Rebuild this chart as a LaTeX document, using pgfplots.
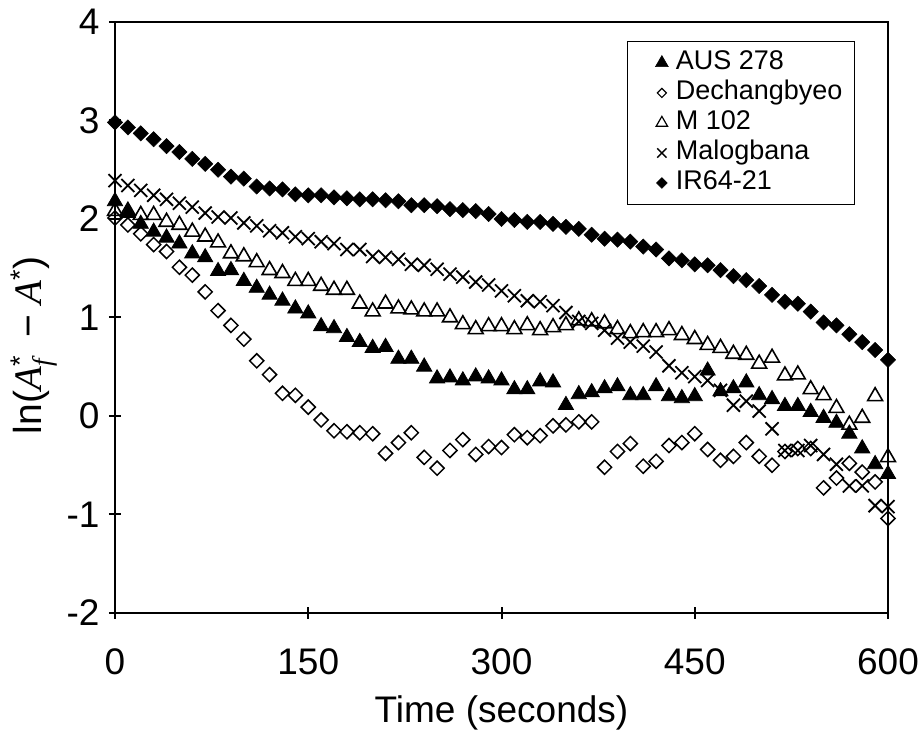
\documentclass[border=0pt]{standalone}
\usepackage{pgfplots}
\pgfplotsset{compat=1.18}
\usepackage{pgfplotstable}
\usepackage{fontspec}
\setmainfont{Liberation Sans}
\newfontfamily\serifit{Liberation Serif}
\newcommand{\sstar}{\raisebox{0.3em}{\fontsize{27}{27}\selectfont *}}
\newcommand{\Af}{{\serifit\itshape A}\rlap{\sstar}\raisebox{-0.28em}{\fontsize{27}{27}\selectfont\serifit\itshape f}}
\newcommand{\As}{{\serifit\itshape A}\sstar}
\pgfplotstableread{
t aus dech m102 malo ir64
0 2.18 2.01 2.08 2.39 2.98
10 2.06 1.94 2.08 2.34 2.93
20 1.95 1.85 2.04 2.29 2.87
30 1.87 1.74 2.04 2.24 2.81
40 1.81 1.67 1.97 2.20 2.74
50 1.75 1.51 1.94 2.16 2.68
60 1.65 1.43 1.87 2.12 2.61
70 1.61 1.26 1.82 2.06 2.56
80 1.47 1.07 1.76 2.02 2.50
90 1.48 0.92 1.65 2.01 2.43
100 1.37 0.78 1.62 1.96 2.41
110 1.30 0.56 1.56 1.93 2.33
120 1.23 0.42 1.48 1.88 2.31
130 1.17 0.23 1.45 1.86 2.30
140 1.09 0.21 1.37 1.82 2.25
150 1.04 0.09 1.37 1.80 2.24
160 0.91 -0.04 1.32 1.77 2.24
170 0.89 -0.15 1.28 1.75 2.22
180 0.80 -0.16 1.28 1.69 2.21
190 0.75 -0.17 1.14 1.69 2.20
200 0.69 -0.18 1.06 1.62 2.20
210 0.70 -0.38 1.14 1.61 2.19
220 0.58 -0.27 1.09 1.59 2.18
230 0.58 -0.17 1.08 1.54 2.14
240 0.50 -0.42 1.06 1.53 2.14
250 0.38 -0.53 1.06 1.49 2.13
260 0.39 -0.35 1.00 1.44 2.10
270 0.36 -0.24 0.93 1.41 2.09
280 0.40 -0.39 0.88 1.36 2.08
290 0.38 -0.31 0.91 1.33 2.05
300 0.36 -0.32 0.91 1.27 2.00
310 0.27 -0.19 0.88 1.22 1.99
320 0.27 -0.22 0.92 1.17 1.97
330 0.35 -0.20 0.87 1.16 1.97
340 0.34 -0.10 0.90 1.12 1.95
350 0.11 -0.09 0.92 1.05 1.92
360 0.22 -0.06 0.97 0.96 1.90
370 0.24 -0.06 0.96 0.94 1.84
380 0.28 -0.52 0.94 0.87 1.80
390 0.30 -0.36 0.88 0.79 1.79
400 0.21 -0.28 0.84 0.75 1.77
410 0.21 -0.51 0.85 0.71 1.72
420 0.30 -0.46 0.85 0.65 1.69
430 0.20 -0.30 0.87 0.51 1.60
440 0.18 -0.27 0.82 0.44 1.58
450 0.20 -0.18 0.78 0.40 1.54
460 0.46 -0.34 0.72 0.36 1.53
470 0.25 -0.45 0.69 0.26 1.48
480 0.28 -0.41 0.63 0.11 1.42
490 0.34 -0.27 0.62 0.15 1.38
500 0.21 -0.41 0.53 0.05 1.32
510 0.17 -0.50 0.59 -0.13 1.23
520 0.10 -0.36 0.41 -0.35 1.16
530 0.10 -0.33 0.42 -0.35 1.14
540 0.04 -0.33 0.27 -0.30 1.06
550 -0.02 -0.73 0.21 -0.39 0.95
560 -0.07 -0.63 0.08 -0.49 0.92
570 -0.18 -0.48 -0.09 -0.71 0.83
580 -0.33 -0.57 -0.02 -0.71 0.75
590 -0.49 -0.67 0.20 -0.91 0.67
600 -0.59 -1.04 -0.42 -0.92 0.57
}\data
\begin{document}
\begin{tikzpicture}
\begin{axis}[
  name=ax,
  scale only axis,
  width=773pt, height=591pt,
  xmin=0, xmax=600, ymin=-2, ymax=4,
  xtick={0,150,300,450,600},
  ytick={-2,-1,0,1,2,3,4},
  xtick pos=bottom, ytick pos=left,
  tick align=center,
  major tick length=12pt,
  axis line style={line width=2pt},
  every tick/.style={line width=2pt, black},
  /pgf/number format/assume math mode=true,
  tick label style={font=\fontsize{37}{44}\selectfont},
  xticklabel style={yshift=-26pt},
  yticklabel style={xshift=-6pt},
  label style={font=\fontsize{37}{44}\selectfont},
  xlabel={Time (seconds)},
  ylabel={ln(\Af\ \ − \As)},
  xlabel style={yshift=-14pt},
  ylabel style={yshift=2pt, xshift=-28pt, font=\fontsize{39}{46}\selectfont},
  only marks,
  legend style={at={(1,1)}, anchor=north east, xshift=-33pt, yshift=-19pt,
    draw=black, line width=1pt, font=\fontsize{27}{31}\selectfont,
    inner xsep=10pt, inner ysep=8pt, row sep=3pt,
    nodes={inner xsep=2pt, inner ysep=2pt, text height=18pt, text depth=5pt}},
  legend cell align=left,
]
\addplot[black, mark=triangle*, mark options={scale=4.4, fill=black, line width=0.8pt},
  legend image code/.code={\path[draw=none,fill=none] (-24pt,0pt) -- (12pt,0pt);
    \draw[black, mark=triangle*, mark options={scale=3.7, fill=black, line width=0.6pt}] plot coordinates {(0pt,0pt)};}]
  table[x=t, y=aus] {\data};
\addlegendentry{AUS 278}
\addplot[black, mark=square, mark options={scale=2.5, rotate=45, fill=white, line width=1.5pt},
  legend image code/.code={\path[draw=none,fill=none] (-24pt,0pt) -- (12pt,0pt);
    \draw[black, mark=square, mark options={scale=1.6, rotate=45, fill=white, line width=1.2pt}] plot coordinates {(0pt,0pt)};}]
  table[x=t, y=dech] {\data};
\addlegendentry{Dechangbyeo}
\addplot[black, mark=triangle, mark options={scale=4.3, fill=white, line width=1.6pt},
  legend image code/.code={\path[draw=none,fill=none] (-24pt,0pt) -- (12pt,0pt);
    \draw[black, mark=triangle, mark options={scale=3.3, fill=white, line width=1.2pt}] plot coordinates {(0pt,0pt)};}]
  table[x=t, y=m102] {\data};
\addlegendentry{M 102}
\addplot[black, mark=x, mark options={scale=4.6, line width=1.8pt},
  legend image code/.code={\path[draw=none,fill=none] (-24pt,0pt) -- (12pt,0pt);
    \draw[black, mark=x, mark options={scale=3.3, line width=1.4pt}] plot coordinates {(0pt,0pt)};}]
  table[x=t, y=malo] {\data};
\addlegendentry{Malogbana}
\addplot[black, mark=square*, mark options={scale=2.7, rotate=45, fill=black, line width=0.5pt},
  legend image code/.code={\path[draw=none,fill=none] (-24pt,0pt) -- (12pt,0pt);
    \draw[black, mark=square*, mark options={scale=1.9, rotate=45, fill=black, line width=0.5pt}] plot coordinates {(0pt,0pt)};}]
  table[x=t, y=ir64] {\data};
\addlegendentry{IR64-21}
\end{axis}
\pgfresetboundingbox
\path ([xshift=-115pt,yshift=-121pt]ax.south west) rectangle ([xshift=33pt,yshift=22pt]ax.north east);
\end{tikzpicture}
\end{document}
